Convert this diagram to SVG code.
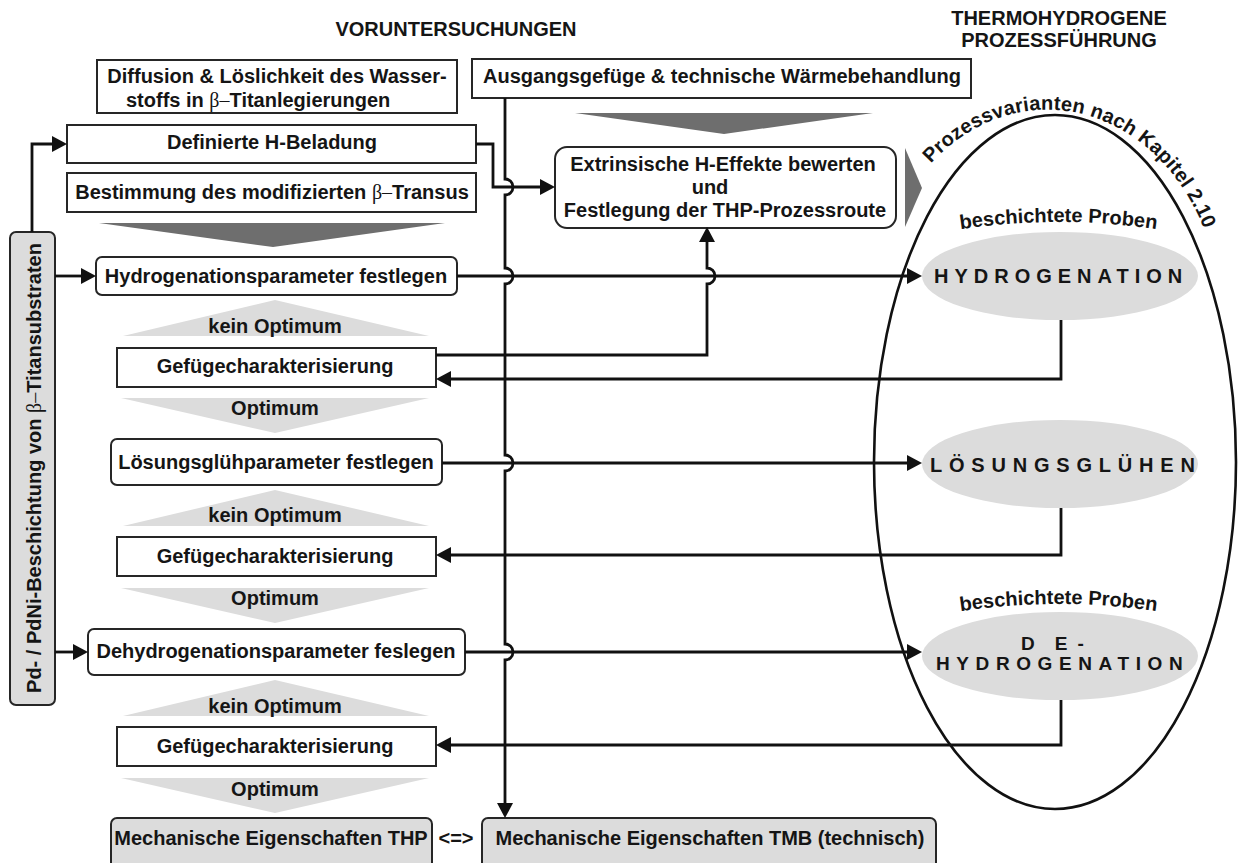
<svg xmlns="http://www.w3.org/2000/svg" width="1239" height="863" viewBox="0 0 1239 863">
  <style>
    text { font-family: "Liberation Sans", Arial, sans-serif; font-weight: bold; font-size: 20px; fill: #151515; }
    .c { text-anchor: middle; }
    .sym { font-family: "Liberation Serif", "Times New Roman", serif; font-weight: normal; }
    .box { fill: #ffffff; stroke: #262626; stroke-width: 2; }
    .gbox { fill: #dcdcdc; stroke: #262626; stroke-width: 2; }
    .tri { fill: #dcdcdc; }
    .dark { fill: #6e6e6e; }
    .oval { fill: #dcdcdc; }
    .arr { fill: none; stroke: #111111; stroke-width: 2.8; marker-end: url(#ah); }
    .sp { letter-spacing: 6px; }
  </style>
  <defs>
    <marker id="ah" viewBox="0 -8 15 16" refX="0" refY="0" markerWidth="15" markerHeight="16" markerUnits="userSpaceOnUse" orient="auto">
      <path d="M0,-8 L15,0 L0,8 z" fill="#111111"/>
    </marker>
    <path id="arcTitle" d="M915,183 A174,210 0 0 1 1219,287"/>
    <path id="arcProben1" d="M955,230 Q1058,214 1162,230"/>
    <path id="arcProben2" d="M955,612 Q1058,596 1162,612"/>
  </defs>

  <rect width="1239" height="863" fill="#ffffff"/>

  <!-- column headings -->
  <g id="headings">
    <text x="456" y="36" class="c">VORUNTERSUCHUNGEN</text>
    <text x="1059" y="25" class="c">THERMOHYDROGENE</text>
    <text x="1059" y="47" class="c">PROZESSFÜHRUNG</text>
  </g>

  <!-- process variants (large ellipse) -->
  <g id="process-variants">
    <ellipse cx="1055" cy="462" rx="181" ry="347" fill="none" stroke="#111111" stroke-width="2.6"/>
    <text style="letter-spacing:0.2px"><textPath href="#arcTitle" startOffset="25">Prozessvarianten nach Kapitel 2.10</textPath></text>
    <text class="c"><textPath href="#arcProben1" startOffset="50%">beschichtete Proben</textPath></text>
    <text class="c"><textPath href="#arcProben2" startOffset="50%">beschichtete Proben</textPath></text>
  </g>

  <g id="hydrogenation">
    <ellipse class="oval" cx="1060" cy="276" rx="138" ry="44"/>
    <text x="934" y="283" class="sp">HYDROGENATION</text>
  </g>
  <g id="loesungsgluehen">
    <ellipse class="oval" cx="1060" cy="464" rx="138" ry="44"/>
    <text x="930" y="472" style="letter-spacing:6.8px">LÖSUNGSGLÜHEN</text>
  </g>
  <g id="dehydrogenation">
    <ellipse class="oval" cx="1060" cy="656" rx="138" ry="44"/>
    <text x="1021" y="650" dx="0 14 4" class="sp" style="font-size:19px">DE-</text>
    <text x="936" y="670" class="sp" style="font-size:19px;letter-spacing:6.6px">HYDROGENATION</text>
  </g>

  <!-- preliminary studies -->
  <g id="diffusion">
    <rect class="box" x="97" y="60" width="360" height="53"/>
    <text x="277" y="83" class="c">Diffusion &amp; Löslichkeit des Wasser-</text>
    <text x="126" y="107">stoffs in <tspan class="sym">β–</tspan>Titanlegierungen</text>
  </g>
  <g id="ausgangsgefuege">
    <rect class="box" x="472" y="59" width="499" height="39"/>
    <text x="722" y="83" class="c">Ausgangsgefüge &amp; technische Wärmebehandlung</text>
  </g>
  <g id="h-beladung">
    <rect class="box" x="67" y="125" width="409" height="38"/>
    <text x="272" y="149" class="c">Definierte H-Beladung</text>
  </g>
  <g id="beta-transus">
    <rect class="box" x="67" y="173" width="409" height="39"/>
    <text x="272" y="199" class="c">Bestimmung des modifizierten <tspan class="sym">β–</tspan>Transus</text>
  </g>
  <g id="chevrons-dark">
    <polygon class="dark" points="99,223 445,223 273,247"/>
    <polygon class="dark" points="575,113 873,113 724,134"/>
    <polygon class="dark" points="905,148 922,188 905,227"/>
  </g>
  <g id="extrinsisch">
    <rect class="box" x="555" y="147" width="341" height="81" rx="12"/>
    <text x="723" y="171" class="c">Extrinsische H-Effekte bewerten</text>
    <text x="710" y="194" class="c">und</text>
    <text x="725" y="217" class="c">Festlegung der THP-Prozessroute</text>
  </g>

  <!-- coating (left bar) -->
  <g id="beschichtung">
    <rect class="gbox" x="10" y="232" width="45" height="473" rx="6"/>
    <text transform="translate(41,468) rotate(-90)" class="c">Pd- / PdNi-Beschichtung von <tspan class="sym">β–</tspan>Titansubstraten</text>
  </g>

  <!-- hydrogenation loop -->
  <g id="hydrierparameter">
    <rect class="box" x="96" y="257" width="361" height="38" rx="6"/>
    <text x="276" y="283" class="c">Hydrogenationsparameter festlegen</text>
  </g>
  <g id="decision-1">
    <polygon class="tri" points="123,336 429,336 275,300"/>
    <text x="275" y="333" class="c">kein Optimum</text>
    <polygon class="tri" points="121,398 429,398 275,433"/>
    <text x="275" y="415" class="c">Optimum</text>
  </g>
  <g id="gefuege-1">
    <rect class="box" x="117" y="348" width="319" height="39"/>
    <text x="275" y="373" class="c">Gefügecharakterisierung</text>
  </g>

  <!-- solution annealing loop -->
  <g id="loesungsparameter">
    <rect class="box" x="111" y="439" width="331" height="46" rx="6"/>
    <text x="276" y="469" class="c">Lösungsglühparameter festlegen</text>
  </g>
  <g id="decision-2">
    <polygon class="tri" points="123,526 429,526 275,490"/>
    <text x="275" y="522" class="c">kein Optimum</text>
    <polygon class="tri" points="121,588 429,588 275,623"/>
    <text x="275" y="605" class="c">Optimum</text>
  </g>
  <g id="gefuege-2">
    <rect class="box" x="117" y="537" width="319" height="39"/>
    <text x="275" y="563" class="c">Gefügecharakterisierung</text>
  </g>

  <!-- dehydrogenation loop -->
  <g id="dehydrierparameter">
    <rect class="box" x="88" y="629" width="377" height="46" rx="6"/>
    <text x="276" y="658" class="c">Dehydrogenationsparameter feslegen</text>
  </g>
  <g id="decision-3">
    <polygon class="tri" points="123,716 429,716 275,680"/>
    <text x="275" y="713" class="c">kein Optimum</text>
    <polygon class="tri" points="121,778 429,778 275,813"/>
    <text x="275" y="796" class="c">Optimum</text>
  </g>
  <g id="gefuege-3">
    <rect class="box" x="117" y="727" width="319" height="39"/>
    <text x="275" y="753" class="c">Gefügecharakterisierung</text>
  </g>

  <!-- mechanical properties -->
  <g id="mech-thp">
    <rect class="gbox" x="111" y="818" width="321" height="60" rx="6"/>
    <text x="271" y="845" class="c">Mechanische Eigenschaften THP</text>
  </g>
  <text x="456" y="845" class="c">&lt;=&gt;</text>
  <g id="mech-tmb">
    <rect class="gbox" x="482" y="818" width="454" height="60" rx="6"/>
    <text x="710" y="845" class="c">Mechanische Eigenschaften TMB (technisch)</text>
  </g>

  <!-- connectors -->
  <g id="connectors">
    <path class="arr" d="M32,232 V144 H52"/>
    <path class="arr" d="M55,276 H81"/>
    <path class="arr" d="M55,652 H73"/>
    <path class="arr" d="M476,144 H493 V187 H540"/>
    <path class="arr" d="M505,98 V179 A8,8 0 0 1 505,195 V268 A8,8 0 0 1 505,284 V455 A8,8 0 0 1 505,471 V644 A8,8 0 0 1 505,660 V803"/>
    <path class="arr" d="M457,276 H907"/>
    <path class="arr" d="M436,355 H707 V284 A8,8 0 0 0 707,268 V242"/>
    <path class="arr" d="M1061,320 V379 H451"/>
    <path class="arr" d="M442,463 H907"/>
    <path class="arr" d="M1061,508 V555 H451"/>
    <path class="arr" d="M465,652 H907"/>
    <path class="arr" d="M1061,700 V745 H451"/>
  </g>
</svg>
